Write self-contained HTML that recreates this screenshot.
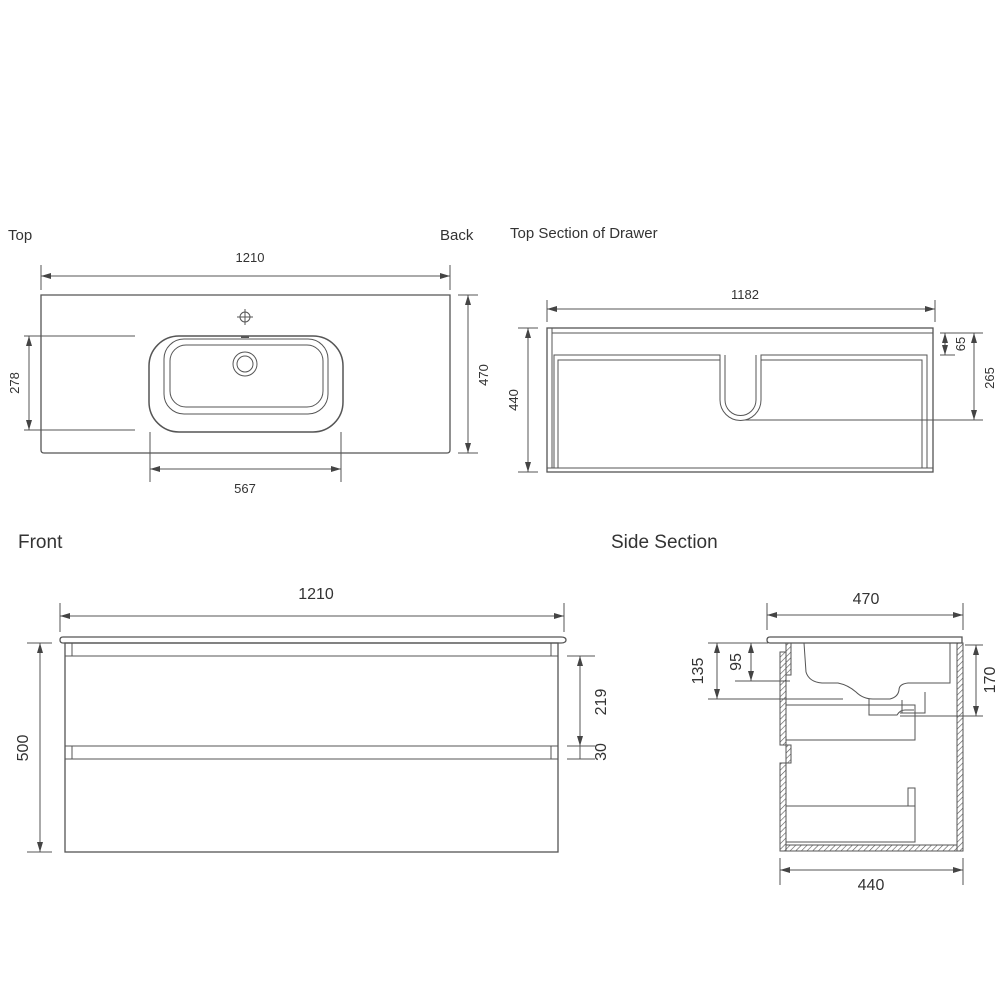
<!DOCTYPE html>
<html><head><meta charset="utf-8"><style>
html,body{margin:0;padding:0;background:#fff;}
svg{display:block;font-family:"Liberation Sans",sans-serif;}
text{fill:#333;}
</style></head><body>
<svg width="1000" height="1000" viewBox="0 0 1000 1000" xmlns="http://www.w3.org/2000/svg">
<defs>
<marker id="a" viewBox="0 0 10 6" refX="10" refY="3" markerWidth="10" markerHeight="6" markerUnits="userSpaceOnUse" orient="auto-start-reverse"><path d="M0,0 L10,3 L0,6 Z" fill="#444"/></marker>
<pattern id="h" width="4" height="4" patternUnits="userSpaceOnUse" patternTransform="rotate(45)"><line x1="0" y1="0" x2="0" y2="4" stroke="#555" stroke-width="1.2"/></pattern>
</defs>
<g stroke="#555" fill="none" stroke-width="1">
<!-- TOP VIEW -->
<line x1="41" y1="265" x2="41" y2="290"/><line x1="450" y1="265" x2="450" y2="290"/>
<line x1="41" y1="276" x2="450" y2="276" marker-start="url(#a)" marker-end="url(#a)"/>
<path d="M41,295 L450,295 L450,450 Q450,453 447,453 L44,453 Q41,453 41,450 Z" stroke-width="1.3"/>
<circle cx="245" cy="317" r="5"/><line x1="237" y1="317" x2="253" y2="317"/><line x1="245" y1="309" x2="245" y2="325"/>
<rect x="149" y="336" width="194" height="96" rx="30" stroke-width="1.5"/>
<rect x="164" y="339" width="164" height="75" rx="20"/>
<rect x="170" y="345" width="153" height="62" rx="16"/>
<line x1="241" y1="337" x2="249" y2="337" stroke-width="2"/>
<circle cx="245" cy="364" r="12"/><circle cx="245" cy="364" r="8"/>
<line x1="24" y1="336" x2="135" y2="336"/><line x1="24" y1="430" x2="135" y2="430"/>
<line x1="29" y1="336" x2="29" y2="430" marker-start="url(#a)" marker-end="url(#a)"/>
<line x1="150" y1="432" x2="150" y2="482"/><line x1="341" y1="432" x2="341" y2="482"/>
<line x1="150" y1="469" x2="341" y2="469" marker-start="url(#a)" marker-end="url(#a)"/>
<line x1="458" y1="295" x2="478" y2="295"/><line x1="458" y1="453" x2="478" y2="453"/>
<line x1="468" y1="295" x2="468" y2="453" marker-start="url(#a)" marker-end="url(#a)"/>
<!-- TOP SECTION OF DRAWER -->
<line x1="547" y1="300" x2="547" y2="322"/><line x1="935" y1="300" x2="935" y2="322"/>
<line x1="547" y1="309" x2="935" y2="309" marker-start="url(#a)" marker-end="url(#a)"/>
<rect x="547" y="328" width="386" height="144" stroke-width="1.3"/>
<line x1="552" y1="333" x2="933" y2="333"/><line x1="552" y1="328" x2="552" y2="468"/>
<line x1="547" y1="468" x2="933" y2="468"/>
<path d="M554,468 L554,355 L720,355 L720,400 A20.5,20.5 0 0 0 761,400 L761,355 L927,355 L927,468"/>
<path d="M558,468 L558,360 L720,360 M761,360 L922,360 L922,468"/>
<path d="M725,355 L725,400 A15.5,15.5 0 0 0 756,400 L756,355"/>
<line x1="518" y1="328" x2="538" y2="328"/><line x1="518" y1="472" x2="538" y2="472"/>
<line x1="528" y1="328" x2="528" y2="472" marker-start="url(#a)" marker-end="url(#a)"/>
<line x1="940" y1="333" x2="983" y2="333"/><line x1="940" y1="355" x2="955" y2="355"/>
<line x1="945" y1="333" x2="945" y2="355" marker-start="url(#a)" marker-end="url(#a)"/>
<line x1="745" y1="420" x2="983" y2="420"/>
<line x1="974" y1="333" x2="974" y2="420" marker-start="url(#a)" marker-end="url(#a)"/>
<!-- FRONT -->
<line x1="60" y1="603" x2="60" y2="632"/><line x1="564" y1="603" x2="564" y2="632"/>
<line x1="60" y1="616" x2="564" y2="616" marker-start="url(#a)" marker-end="url(#a)"/>
<path d="M63,637 L561,637 Q566,637 566,640 Q566,643 561,643 L63,643 Q60,643 60,640 Q60,637 63,637 Z" stroke-width="1.3"/>
<rect x="65" y="643" width="493" height="209" stroke-width="1.3"/>
<line x1="65" y1="656" x2="558" y2="656"/><line x1="72" y1="643" x2="72" y2="656"/><line x1="551" y1="643" x2="551" y2="656"/>
<line x1="65" y1="746" x2="558" y2="746"/><line x1="65" y1="759" x2="558" y2="759"/>
<line x1="72" y1="746" x2="72" y2="759"/><line x1="551" y1="746" x2="551" y2="759"/>
<line x1="27" y1="643" x2="52" y2="643"/><line x1="27" y1="852" x2="52" y2="852"/>
<line x1="40" y1="643" x2="40" y2="852" marker-start="url(#a)" marker-end="url(#a)"/>
<line x1="567" y1="656" x2="595" y2="656"/><line x1="567" y1="746" x2="595" y2="746"/><line x1="567" y1="759" x2="595" y2="759"/>
<line x1="580" y1="656" x2="580" y2="746" marker-start="url(#a)" marker-end="url(#a)"/>
<line x1="580" y1="746" x2="580" y2="759"/>
<!-- SIDE SECTION -->
<line x1="767" y1="603" x2="767" y2="630"/><line x1="963" y1="603" x2="963" y2="630"/>
<line x1="767" y1="615" x2="963" y2="615" marker-start="url(#a)" marker-end="url(#a)"/>
<path d="M770,637 L962,637 L962,643 L770,643 Q767,643 767,640 Q767,637 770,637 Z" stroke-width="1.3"/>
<rect x="786" y="643" width="5" height="32" fill="url(#h)"/>
<rect x="780" y="652" width="6" height="93" fill="url(#h)"/>
<rect x="786" y="745" width="5" height="18" fill="url(#h)"/>
<rect x="780" y="763" width="6" height="88" fill="url(#h)"/>
<rect x="957" y="643" width="6" height="208" fill="url(#h)"/>
<rect x="786" y="845" width="171" height="6" fill="url(#h)"/>
<path d="M804,643 L806,672 Q809,682 822,683 L838,683 Q848,685 856,692 Q863,699 873,699 L890,699 Q898,697 899,690 Q899,684 908,683 L950,683 L950,643"/>
<path d="M925,692 L925,713 L900,713 M902,700 L902,713"/>
<path d="M869,699 L869,715 L897,715 Q900,710 905,710 L914,710"/>
<rect x="786" y="705" width="129" height="35"/>
<rect x="786" y="806" width="129" height="36"/>
<rect x="908" y="788" width="7" height="18"/>
<line x1="708" y1="643" x2="768" y2="643"/>
<line x1="708" y1="699" x2="843" y2="699"/>
<line x1="717" y1="643" x2="717" y2="699" marker-start="url(#a)" marker-end="url(#a)"/>
<line x1="735" y1="681" x2="790" y2="681"/>
<line x1="751" y1="643" x2="751" y2="681" marker-start="url(#a)" marker-end="url(#a)"/>
<line x1="965" y1="645" x2="983" y2="645"/><line x1="900" y1="716" x2="983" y2="716"/>
<line x1="976" y1="645" x2="976" y2="716" marker-start="url(#a)" marker-end="url(#a)"/>
<line x1="780" y1="858" x2="780" y2="885"/><line x1="963" y1="858" x2="963" y2="885"/>
<line x1="780" y1="870" x2="963" y2="870" marker-start="url(#a)" marker-end="url(#a)"/>
</g>
<g font-size="15">
<text x="8" y="240">Top</text>
<text x="440" y="240">Back</text>
<text x="510" y="238">Top Section of Drawer</text>
</g>
<g font-size="13" text-anchor="middle">
<text x="250" y="262">1210</text>
<text x="245" y="493">567</text>
<text x="745" y="299">1182</text>
<text transform="translate(19,383) rotate(-90)">278</text>
<text transform="translate(488,375) rotate(-90)">470</text>
<text transform="translate(518,400) rotate(-90)">440</text>
<text transform="translate(965,344) rotate(-90)">65</text>
<text transform="translate(994,378) rotate(-90)">265</text>
</g>
<g font-size="19">
<text x="18" y="548">Front</text>
<text x="611" y="548">Side Section</text>
</g>
<g font-size="16" text-anchor="middle">
<text x="316" y="599">1210</text>
<text x="866" y="604">470</text>
<text x="871" y="890">440</text>
<text transform="translate(28,748) rotate(-90)">500</text>
<text transform="translate(606,702) rotate(-90)">219</text>
<text transform="translate(606,752) rotate(-90)">30</text>
<text transform="translate(703,671) rotate(-90)">135</text>
<text transform="translate(741,662) rotate(-90)">95</text>
<text transform="translate(995,680) rotate(-90)">170</text>
</g>
</svg>
</body></html>
